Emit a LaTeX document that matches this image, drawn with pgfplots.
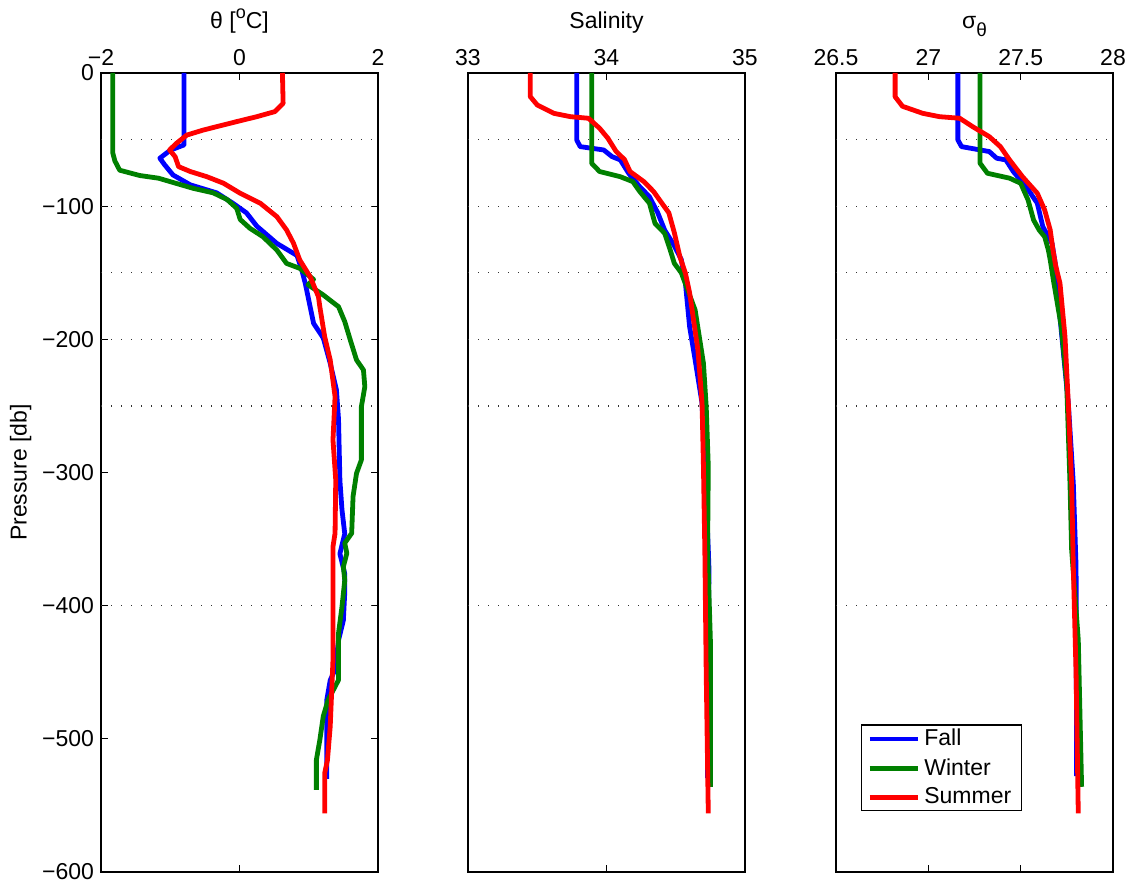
\documentclass[border=0pt]{standalone}
\usepackage{fontspec}
\setmainfont{Liberation Sans}
\usepackage{pgfplots}
\pgfplotsset{compat=1.18}

\definecolor{mblue}{rgb}{0,0,1}
\definecolor{mgreen}{rgb}{0,0.5,0}
\definecolor{mred}{rgb}{1,0,0}

\pgfplotsset{
  panel/.style={
    scale only axis, width=138.5pt, height=399.5pt,
    ymin=-600, ymax=0,
    xticklabel pos=right,
    tick align=inside,
    major tick length=3.5pt,
    axis line style={line width=0.6pt},
    every tick/.style={black, line width=0.5pt},
    tick label style={font=\fontsize{11.5}{13.5}\selectfont},
    title style={font=\fontsize{11.5}{13.5}\selectfont, at={(0.5,1)}, anchor=base, yshift=16pt},
    extra y ticks={-50,-100,-150,-200,-250,-400},
    extra y tick labels={},
    extra y tick style={grid=major, major tick length=0pt},
    major grid style={black!80, line width=0.6pt, dash pattern=on 0.6pt off 4.4pt},
    every axis plot/.append style={line width=2.4pt, line join=round, no markers},
  }
}

\begin{document}
\begin{tikzpicture}
\useasboundingbox (0,0) rectangle (568pt,442pt);

% Panel 1: theta
\begin{axis}[panel, at={(50.5pt,6pt)}, anchor=south west,
  xmin=-2, xmax=2, xtick={-2,0,2}, xticklabels={−2,0,2},
  ytick={-600,-500,-400,-300,-200,-100,0},
  yticklabels={−600,−500,−400,−300,−200,−100,0},
  title={θ [\raisebox{0.9ex}{\fontsize{9}{10}\selectfont o}C]},
  ylabel={Pressure [db]},
  ylabel style={font=\fontsize{11.5}{13.5}\selectfont, at={(axis description cs:-0.29,0.5)}, anchor=center},
]
\addplot[mblue] coordinates {(-0.80,0) (-0.80,-54) (-1.00,-58) (-1.15,-64) (-1.08,-69) (-0.96,-76.6) (-0.71,-84) (-0.33,-90) (-0.09,-98) (0.10,-105) (0.25,-115) (0.54,-128) (0.83,-137) (0.90,-148) (0.95,-158) (1.07,-188) (1.21,-199) (1.31,-218) (1.40,-238) (1.43,-260) (1.45,-306) (1.48,-328) (1.52,-346) (1.45,-361) (1.52,-376) (1.52,-390) (1.50,-411) (1.43,-426) (1.38,-448) (1.31,-456) (1.26,-471) (1.26,-530)};
\addplot[mgreen] coordinates {(-1.83,0) (-1.83,-60) (-1.80,-66) (-1.73,-73) (-1.44,-77) (-1.17,-79) (-1.0,-81.6) (-0.67,-86.6) (-0.38,-90) (-0.18,-95) (-0.04,-101.6) (0.01,-110) (0.15,-116.6) (0.34,-123) (0.54,-133) (0.68,-143) (0.87,-146.7) (1.07,-155) (0.99,-159) (1.21,-166.7) (1.43,-175.5) (1.52,-186.7) (1.60,-200.5) (1.69,-215.5) (1.79,-223) (1.81,-235.6) (1.76,-250.6) (1.76,-290.6) (1.69,-300.6) (1.64,-318) (1.62,-345.6) (1.52,-353) (1.55,-360.7) (1.50,-370.7) (1.52,-381) (1.48,-400.7) (1.43,-420.7) (1.43,-455.8) (1.28,-470.8) (1.21,-483) (1.16,-500.9) (1.11,-515.9) (1.11,-538.4)};
\addplot[mred] coordinates {(0.62,0) (0.63,-22.8) (0.51,-29) (0.25,-32.8) (-0.04,-36.5) (-0.23,-39) (-0.52,-42.8) (-0.76,-46.6) (-0.91,-52.8) (-1.01,-57.8) (-0.93,-62.8) (-0.88,-70.3) (-0.71,-74) (-0.47,-77.9) (-0.23,-82.8) (0.01,-90.3) (0.30,-97.8) (0.54,-107.9) (0.68,-117.9) (0.78,-127.9) (0.87,-140.4) (1.02,-153) (1.14,-168) (1.16,-175.5) (1.23,-198) (1.31,-215.5) (1.38,-243) (1.35,-275.6) (1.39,-305.6) (1.38,-345.6) (1.35,-355.7) (1.35,-440.8) (1.31,-490.9) (1.27,-516) (1.23,-525.9) (1.23,-556)};
\end{axis}

% Panel 2: salinity
\begin{axis}[panel, at={(234pt,6pt)}, anchor=south west,
  xmin=33, xmax=35, xtick={33,34,35}, xticklabels={33,34,35},
  ytick=\empty,
  title={Salinity},
]
\addplot[mblue] coordinates {(33.785,0) (33.785,-50.3) (33.81,-55.3) (33.98,-57.8) (34.04,-62.8) (34.10,-65.3) (34.16,-75.3) (34.24,-85.4) (34.31,-92.9) (34.37,-105) (34.42,-118) (34.48,-128) (34.54,-140) (34.57,-158) (34.60,-190.5) (34.64,-215.5) (34.69,-248) (34.71,-295.6) (34.735,-358) (34.74,-373) (34.735,-425.8) (34.73,-529.6)};
\addplot[mgreen] coordinates {(33.893,0) (33.893,-67.8) (33.95,-74) (34.10,-77.9) (34.19,-81.6) (34.24,-89) (34.31,-97.8) (34.35,-112.9) (34.42,-120.4) (34.46,-132.9) (34.49,-143) (34.54,-150) (34.64,-178) (34.70,-218) (34.72,-250.6) (34.735,-295.6) (34.73,-358) (34.75,-425.8) (34.75,-536)};
\addplot[mred] coordinates {(33.45,0) (33.45,-17.8) (33.50,-24) (33.62,-30.3) (33.74,-32.8) (33.87,-34) (33.95,-41.5) (34.01,-49) (34.07,-59) (34.13,-65) (34.17,-74) (34.27,-81.6) (34.34,-89) (34.40,-97.8) (34.45,-105) (34.49,-120) (34.53,-138) (34.57,-150.4) (34.60,-165) (34.66,-208) (34.69,-248) (34.70,-295.6) (34.71,-358) (34.72,-450.8) (34.735,-556)};
\end{axis}

% Panel 3: sigma theta
\begin{axis}[panel, at={(418pt,6pt)}, anchor=south west,
  xmin=26.5, xmax=28, xtick={26.5,27,27.5,28}, xticklabels={26.5,27,27.5,28},
  ytick=\empty,
  title={σ\raisebox{-0.6ex}{\fontsize{9.5}{10}\selectfont θ}},
  legend cell align=left,
  legend style={at={(0.09,0.076)}, anchor=south west, draw=black, line width=0.6pt,
    font=\fontsize{11.5}{13.5}\selectfont, inner xsep=3pt, inner ysep=0pt, row sep=0.8pt},
  legend image code/.code={\draw[#1, line width=2.4pt] (0pt,0pt) -- (19pt,0pt); \path (0pt,0pt) -- (24pt,0pt);},
]
\addplot[mblue] coordinates {(27.16,0) (27.16,-50.3) (27.18,-55.3) (27.33,-59) (27.37,-64) (27.42,-65.3) (27.46,-74) (27.53,-85.4) (27.59,-97.8) (27.62,-115.4) (27.67,-128) (27.69,-145.4) (27.704,-170.5) (27.73,-208) (27.758,-248) (27.785,-308) (27.80,-370.7) (27.803,-528)};
\addlegendentry{Fall}
\addplot[mgreen] coordinates {(27.28,0) (27.28,-67.8) (27.32,-75.3) (27.44,-79) (27.50,-82.8) (27.54,-95.4) (27.57,-110.4) (27.60,-117.9) (27.63,-123) (27.65,-133) (27.66,-140.4) (27.677,-155.4) (27.72,-190.5) (27.749,-233) (27.767,-308) (27.776,-358) (27.785,-375) (27.812,-425.8) (27.83,-536)};
\addlegendentry{Winter}
\addplot[mred] coordinates {(26.82,0) (26.82,-17.8) (26.86,-25) (26.97,-30.3) (27.06,-32.8) (27.17,-34) (27.24,-40.3) (27.33,-47.8) (27.39,-55.3) (27.44,-65.3) (27.51,-77.9) (27.59,-90.3) (27.63,-102.9) (27.66,-117.9) (27.675,-133) (27.69,-145) (27.713,-158) (27.74,-198) (27.758,-248) (27.776,-308) (27.785,-370.7) (27.80,-450.8) (27.812,-556)};
\addlegendentry{Summer}
\end{axis}
\end{tikzpicture}
\end{document}
